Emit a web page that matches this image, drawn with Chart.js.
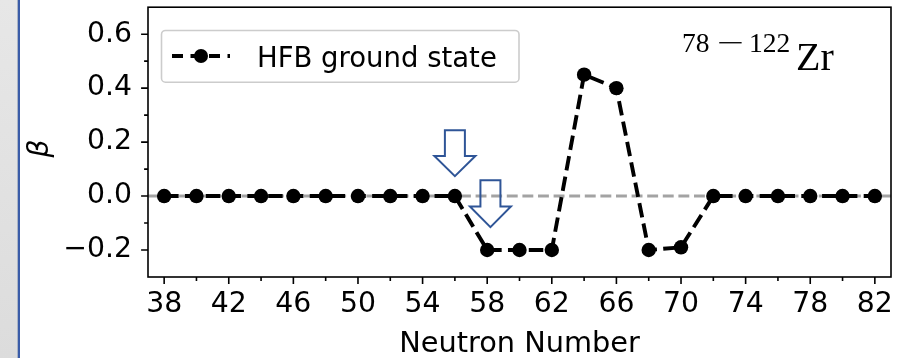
<!DOCTYPE html>
<html><head><meta charset="utf-8">
<script src="https://cdn.jsdelivr.net/npm/chart.js@4"></script>
<style>html,body{margin:0;padding:0;background:#fff;overflow:hidden}#wrap{position:relative;width:909px;height:358px}canvas{display:block}</style>
</head><body><div id="wrap"><canvas id="c" width="909" height="358"></canvas></div>
<script>
// ---- data ----
const neutronNumbers = [38,40,42,44,46,48,50,52,54,56,58,60,62,64,66,68,70,72,74,76,78,80,82];
const betaValues     = [0,0,0,0,0,0,0,0,0,0,-0.2,-0.2,-0.2,0.45,0.40,-0.2,-0.19,0,0,0,0,0,0];
const seriesLabel = 'HFB ground state';
const xTickValues = [38,42,46,50,54,58,62,66,70,74,78,82];
const xMinorTickValues = [40,44,48,52,56,60,64,68,72,76,80];
const yTickValues = [-0.2,0,0.2,0.4,0.6];
const yMinorTickValues = [-0.1,0.1,0.3,0.5];
const xAxisTitle = 'Neutron Number';
const yAxisTitle = 'β';
const titleSup = ['78','\u2212','122'];
const titleMain = 'Zr';
// arrow annotations (data coordinates: x, top of arrow, tip of arrow)
const arrowX = [56, 58.2];
const arrowTop = [0.244, 0.059];
const arrowTip = [0.074, -0.115];

const SANS = '"DejaVu Sans", sans-serif';
const SERIF = '"Liberation Serif", "Times New Roman", serif';
function fmtY(v){ if (Math.abs(v) < 1e-9) return '0.0'; return v.toFixed(1).replace('-', '\u2212'); }

const decor = {
  id:'decor',
  beforeDraw(chart){
    const ctx = chart.ctx;
    ctx.save();
    const g = ctx.createLinearGradient(0,0,0,358);
    g.addColorStop(0,'#e7e7e7'); g.addColorStop(1,'#dcdcdc');
    ctx.fillStyle = g; ctx.fillRect(0,0,17,358);
    ctx.fillStyle = '#aab4c6'; ctx.fillRect(17,0,1,358);
    ctx.fillStyle = '#3a5ca8'; ctx.fillRect(18,0,2,358);
    ctx.restore();
  },
  beforeDatasetsDraw(chart){
    const {ctx, chartArea:a, scales:{y}} = chart;
    const yp = y.getPixelForValue(0);
    ctx.save();
    ctx.strokeStyle = 'rgba(128,128,128,0.72)';
    ctx.lineWidth = 2.9; ctx.setLineDash([10.9,4.7]);
    ctx.beginPath(); ctx.moveTo(a.left, yp); ctx.lineTo(a.right, yp); ctx.stroke();
    ctx.restore();
  },
  afterDraw(chart){
    const {ctx, chartArea:a, scales:{x,y}} = chart;
    ctx.save();
    // arrows
    ctx.strokeStyle = '#2f5597'; ctx.lineWidth = 2; ctx.lineJoin='miter';
    for (let i=0;i<arrowX.length;i++){
      const cx = x.getPixelForValue(arrowX[i]);
      const t = y.getPixelForValue(arrowTop[i]);
      const b = y.getPixelForValue(arrowTip[i]);
      const h = b - t, hw = 20.5, sw = 10, hs = t + h*0.56;
      ctx.beginPath();
      ctx.moveTo(cx-sw, t); ctx.lineTo(cx+sw, t); ctx.lineTo(cx+sw, hs);
      ctx.lineTo(cx+hw, hs); ctx.lineTo(cx, b); ctx.lineTo(cx-hw, hs);
      ctx.lineTo(cx-sw, hs); ctx.closePath(); ctx.stroke();
    }
    // spines
    ctx.strokeStyle = '#000'; ctx.lineWidth = 1.6; ctx.setLineDash([]);
    ctx.strokeRect(a.left, a.top, a.right-a.left, a.bottom-a.top);
    // ticks
    ctx.beginPath();
    xTickValues.forEach(v=>{const p=x.getPixelForValue(v); ctx.moveTo(p,a.bottom); ctx.lineTo(p,a.bottom+6.9);});
    xMinorTickValues.forEach(v=>{const p=x.getPixelForValue(v); ctx.moveTo(p,a.bottom); ctx.lineTo(p,a.bottom+3.9);});
    yTickValues.forEach(v=>{const p=y.getPixelForValue(v); ctx.moveTo(a.left,p); ctx.lineTo(a.left-6.9,p);});
    yMinorTickValues.forEach(v=>{const p=y.getPixelForValue(v); ctx.moveTo(a.left,p); ctx.lineTo(a.left-3.9,p);});
    ctx.stroke();
    // axis titles
    ctx.fillStyle = '#000';
    ctx.font = '28.8px ' + SANS; ctx.textAlign='center'; ctx.textBaseline='alphabetic';
    ctx.fillText(xAxisTitle, (a.left+a.right)/2, 352);
    ctx.save();
    ctx.translate(48, (a.top+a.bottom)/2 + 6.5); ctx.rotate(-Math.PI/2);
    ctx.font = 'italic 28px ' + SANS;
    ctx.fillText(yAxisTitle, 0, 0);
    ctx.restore();
    // legend
    const lx = a.left + 13.5, ly = a.top + 23.3, lw = 357.5, lh = 51.7;
    ctx.beginPath(); ctx.roundRect(lx, ly, lw, lh, 4);
    ctx.fillStyle = 'rgba(255,255,255,0.8)'; ctx.fill();
    ctx.strokeStyle = '#cccccc'; ctx.lineWidth = 1.6; ctx.stroke();
    const hy = ly + 25.5;
    ctx.strokeStyle = '#000'; ctx.lineWidth = 3.9; ctx.setLineDash([11,7.5]);
    ctx.beginPath(); ctx.moveTo(lx+10.5, hy); ctx.lineTo(lx+68.5, hy); ctx.stroke();
    ctx.setLineDash([]);
    ctx.beginPath(); ctx.arc(lx+39.5, hy, 7, 0, Math.PI*2); ctx.fillStyle='#000'; ctx.fill();
    ctx.font = '27.5px ' + SANS; ctx.textAlign='left'; ctx.textBaseline='alphabetic';
    ctx.fillText(seriesLabel, lx+95.5, ly+36);
    // title 78-122Zr
    ctx.font = '27.5px ' + SERIF;
    ctx.fillText(titleSup[0], 682, 52);
    ctx.save();
    ctx.translate(717, 52); ctx.scale(1.75, 1);
    ctx.fillText(titleSup[1], 0, 0);
    ctx.restore();
    ctx.fillText(titleSup[2], 749, 52);
    ctx.font = '40px ' + SERIF;
    ctx.fillText(titleMain, 796, 70);
    ctx.restore();
  }
};

new Chart(document.getElementById('c'), {
  type:'line',
  data:{ datasets:[{
    label: seriesLabel,
    data: neutronNumbers.map((n,i)=>({x:n, y:betaValues[i]})),
    borderColor:'#000', borderWidth:3.9, borderDash:[14.5,6.3],
    pointRadius:7.2, pointHoverRadius:7.2, pointBackgroundColor:'#000', pointBorderWidth:0,
    tension:0, fill:false
  }]},
  options:{
    responsive:false, animation:false, devicePixelRatio:1,
    layout:{padding:{top:5,right:18,left:0,bottom:0}},
    plugins:{legend:{display:false}, tooltip:{enabled:false}},
    events:[],
    scales:{
      x:{type:'linear', min:37, max:83,
         grid:{display:false, drawTicks:false}, border:{display:false},
         afterBuildTicks: s => { s.ticks = xTickValues.map(v=>({value:v})); },
         afterFit: s => { s.height = 81; s.paddingLeft = 0; s.paddingRight = 0; },
         ticks:{padding:11, color:'#000', font:{family:SANS, size:28.3}, maxRotation:0, autoSkip:false,
                callback: v => String(v)}},
      y:{type:'linear', min:-0.3, max:0.7,
         grid:{display:false, drawTicks:false}, border:{display:false},
         afterBuildTicks: s => { s.ticks = yTickValues.map(v=>({value:v})); },
         afterFit: s => { s.width = 148; s.paddingTop = 0; s.paddingBottom = 0; },
         ticks:{padding:16, color:'#000', font:{family:SANS, size:28.3}, autoSkip:false,
                callback: v => fmtY(v)}}
    }
  },
  plugins:[decor]
});
</script></body></html>
